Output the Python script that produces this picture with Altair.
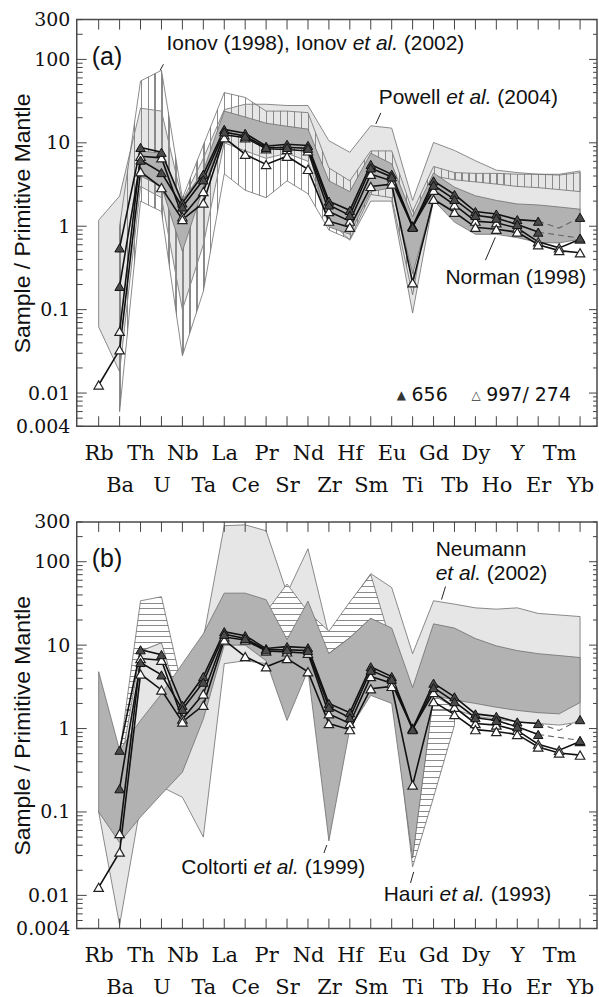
import altair as alt
import pandas as pd

# ---------------------------------------------------------------- data
ELEMENTS = ["Rb", "Ba", "Th", "U", "Nb", "Ta", "La", "Ce", "Pr", "Sr", "Nd", "Zr",
            "Hf", "Sm", "Eu", "Ti", "Gd", "Tb", "Dy", "Ho", "Y", "Er", "Tm", "Yb"]

# samples (sample / primitive mantle); None = not plotted
S656_1 = [None, 0.55, 8.8, 7.7, 1.9, 4.2, 14.5, 13.0, 9.1, 9.6, 9.3, 2.0, 1.55, 5.5, 4.2, 1.0, 3.5, 2.4, 1.5, 1.4, 1.2, 1.15, None, 1.28]
S656_2 = [None, 0.19, 6.2, 4.4, 1.7, 3.6, 13.5, 12.0, 8.8, 8.8, 8.6, 1.8, 1.35, 5.0, 3.9, 0.97, 3.1, 2.1, 1.35, 1.25, 1.05, 0.85, None, 0.72]
S997 = [None, 0.055, 6.9, 6.6, 1.3, 2.6, 12.5, 11.5, 8.5, 8.3, 8.0, 1.5, 1.15, 4.2, 3.5, 1.0, 2.7, 1.8, 1.15, 1.1, 0.95, 0.65, 0.55, 0.7]
S274 = [0.0125, 0.033, 4.5, 2.9, 1.2, 1.9, 11.5, 7.3, 5.5, 6.9, 4.8, 1.15, 0.97, 3.0, 3.2, 0.21, 2.1, 1.47, 0.97, 0.92, 0.85, 0.6, 0.51, 0.48]
DASH1_EL = ["Er", "Tm", "Yb"]
DASH1_V = [1.15, 0.95, 1.28]
DASH2_EL = ["Er", "Yb"]
DASH2_V = [0.85, 0.72]

# panel (a) literature fields
POWELL_HI = [1.18, 2.3, 26, 24, 2.0, 6.5, 25, 29, 29, 28, 28, 10.6, 7.7, 16, 15, 2.04, 10.1, 8.1, 6.1, 4.7, 4.4, 4.2, 4.1, 4.4]
POWELL_LO = [0.062, 0.018, 3.0, 2.2, 0.1, 0.6, 10, 8, 6.5, 7.5, 6, 1.18, 0.68, 2.0, 2.0, 0.091, 2.1, 1.3, 0.9, 0.85, 0.8, 0.75, 0.7, 0.75]
IONOV_HI = [None, 1.0, 55, 74, 2.16, 9.4, 40, 35, 24, 24, 23, 5, 3.5, 8, 8, 1.5, 5.2, 4.4, 4.3, 4.3, 4.2, 4.2, 4.2, 4.6]
IONOV_LO = [None, 0.006, 2.0, 1.5, 0.028, 0.165, 4.25, 2.7, 2.2, 3.5, 2.45, 0.9, 0.7, 2.4, 2.2, 0.15, 4.0, 3.6, 3.4, 3.2, 3.0, 2.9, 2.75, 2.6]
NORMAN_HI = [None, None, 8, 7.5, 2.0, 4.6, 24, 20.4, 17.2, 15.8, 14.6, 3.5, 2.6, 7.5, 5.6, 1.3, 4.35, 2.94, 2.32, 2.04, 1.85, 1.8, 1.7, 1.6]
NORMAN_LO = [None, None, 4, 3.0, 0.5, 2.9, 13, 12.5, 9.5, 9, 8.5, 0.98, 0.8, 2.6, 2.9, 0.27, 2.04, 1.12, 0.8, 0.8, 0.73, 0.64, 0.63, 0.7]

# panel (b) literature fields
NEUMANN_HI = [0.1, 0.5, 8.5, 10.7, 3.0, 12, 270, 277, 235, 42, 143, 13, 32, 72, 49, 7.9, 34, 31, 28, 27, 28, 24, 23, 22]
NEUMANN_LO = [0.1, 0.0044, 0.12, 0.2, 0.15, 0.05, 6, 6.5, 6, 6, 5, 1.5, 1.5, 3, 2.5, 0.2, 2.2, 1.7, 1.4, 1.3, 1.2, 1.15, 1.1, 1.2]
HAURI_HI = [None, 0.5, 34, 38, 3, 5, 20, 20, 25, 54, 25, 14.7, 33, 70, 10, 0.03, 2.5, 1.8, None, None, None, None, None, None]
HAURI_LO = [None, 0.3, 8.5, 10.7, 1.5, 3, 14, 14, 14, 11.7, 14, 8, 12.3, 21, 3, 0.022, 0.15, 1.1, None, None, None, None, None, None]
COLTORTI_HI = [4.8, 0.55, 1.25, 2.6, 6, 13.7, 42, 42, 35, 11.7, 33.7, 7.9, 12.3, 21, 16, 3.1, 18, 16, 12, 9.8, 8.6, 7.9, 7.5, 7.1]
COLTORTI_LO = [0.1, 0.043, 0.087, 0.163, 0.3, 1.3, 10, 10, 6.5, 1.25, 5, 0.045, 1.0, 2.5, 2.0, 0.028, 2.5, 2.2, 2.0, 1.8, 1.65, 1.55, 1.5, 2.05]

# annotations: (x in element index, y in normalised value, [(text, italic)])
NOTES_A = [
    (3.24, 155, [("Ionov (1998), Ionov ", False), ("et al.", True), (" (2002)", False)]),
    (13.38, 34.3, [("Powell ", False), ("et al.", True), (" (2004)", False)]),
    (16.57, 0.239, [("Norman (1998)", False)]),
]
LEADERS_A = [(3.095, 87.3, 2.938, 74), (13.48, 22.8, 13.24, 16.8), (18.95, 0.736, 18.48, 0.392)]
NOTES_B = [
    (16.1, 139, [("Neumann", False)]),
    (16.1, 72, [("et al.", True), (" (2002)", False)]),
    (3.95, 0.0213, [("Coltorti ", False), ("et al.", True), (" (1999)", False)]),
    (13.62, 0.0102, [("Hauri ", False), ("et al.", True), (" (1993)", False)]),
]
LEADERS_B = [(16.57, 50.4, 16.38, 35.2), (10.9, 0.0401, 10.76, 0.0322), (15.05, 0.0191, 14.9, 0.0141)]
LEGEND_SYMBOLS = [(14.24, 0.0096, "▲"), (17.81, 0.0096, "△")]
LEGEND_TEXT = [(14.95, 0.0096, "656"), (18.52, 0.0096, "997/ 274")]
PANEL_LABELS = ["(a)", "(b)"]
PANEL_LABEL_POS = (-0.33, 108)

Y_LABELS = [0.004, 0.01, 0.1, 1, 10, 100, 300]

# ---------------------------------------------------------------- layout
W, H = 522, 408
PX = 21.0
XMIN = -22 / PX
XMAX = XMIN + W / PX
N = len(ELEMENTS)
LIGHT = "#e6e6e6"
DARK = "#b2b2b2"
EDGE = "#6e6e6e"
INK = "#111111"
SANS = "Liberation Sans"
SERIF = "DejaVu Serif"
NOTE_SIZE = 21

XS = alt.Scale(domain=[XMIN, XMAX], nice=False, zero=False)
YS = alt.Scale(type="log", domain=[0.004, 300], nice=False)

names = "[" + ",".join("'%s'" % e for e in ELEMENTS) + "]"
XAX = alt.Axis(values=list(range(N)),
               labelExpr="datum.value %% 2 == 0 ? [%s[datum.value]] : ['', %s[datum.value]]" % (names, names),
               ticks=False, domain=False, grid=False, labelFont=SERIF, labelFontSize=21,
               labelColor=INK, labelPadding=16, labelBaseline="top", labelLineHeight=32,
               labelOverlap=False, labelBound=False, labelFlush=False, title="")
YAX = alt.Axis(values=Y_LABELS, format="~g", ticks=False, domain=False, grid=False,
               labelFont=SERIF, labelFontSize=19, labelColor=INK, labelPadding=7,
               labelOverlap=False, labelFlush=False,
               title="Sample / Primitive Mantle", titleFont=SANS, titleFontSize=23,
               titleFontWeight="normal", titleColor=INK, titleAngle=270, titleX=-54,
               titleY=H / 2, titleAlign="center", titleBaseline="middle")


def X(f):
    return alt.X(f, type="quantitative", scale=XS, axis=XAX)


def Y(f):
    return alt.Y(f, type="quantitative", scale=YS, axis=YAX)


def field_df(hi, lo):
    rows = [{"i": i, "hi": h, "lo": l} for i, (h, l) in enumerate(zip(hi, lo))
            if h is not None and l is not None]
    return pd.DataFrame(rows)


def hatch(n, vertical, color="#8a8a8a", bg="rgba(255,255,255,0)", frac=0.17):
    stops = []
    for k in range(n):
        a, b, c = k / n, (k + frac) / n, (k + 1) / n
        stops += [alt.GradientStop(offset=a, color=color), alt.GradientStop(offset=b, color=color),
                  alt.GradientStop(offset=b, color=bg), alt.GradientStop(offset=c, color=bg)]
    return alt.LinearGradient(gradient="linear", stops=stops, x1=0, y1=0,
                              x2=1 if vertical else 0, y2=0 if vertical else 1)


def field_layer(hi, lo, fill):
    return alt.Chart(field_df(hi, lo)).mark_area(
        fill=fill, stroke=EDGE, strokeWidth=0.8, interpolate="linear"
    ).encode(x=X("i"), y=Y("hi"), y2="lo")


AW = {' ': 278, '(': 333, ')': 333, ',': 278, '.': 278, '/': 278, 'I': 278, 'o': 556,
      'n': 556, 'v': 500, 'e': 556, 't': 278, 'a': 556, 'l': 222, 'P': 667, 'w': 722,
      'N': 722, 'r': 333, 'm': 833, 'C': 722, 'i': 222, 'H': 722, 'u': 556}


def tw(s, size):
    return sum(AW.get(c, 556) for c in s) * size / 1000.0


def note_layers(notes, size=NOTE_SIZE):
    plain, ital = [], []
    for x, y, parts in notes:
        off = 0.0
        for txt, it in parts:
            lead = len(txt) - len(txt.lstrip(" "))
            off += tw(" " * lead, size)
            body = txt.strip(" ")
            (ital if it else plain).append({"x": x + off / PX, "y": y, "t": body})
            off += tw(txt.lstrip(" "), size)
    out = []
    for rows, style in ((plain, "normal"), (ital, "italic")):
        if rows:
            out.append(alt.Chart(pd.DataFrame(rows)).mark_text(
                align="left", baseline="middle", font=SANS, fontSize=size,
                fontStyle=style, color=INK).encode(x=X("x"), y=Y("y"), text="t:N"))
    return out


def leader_layer(leaders):
    df = pd.DataFrame([{"x": a, "y": b, "x2": c, "y2": d} for a, b, c, d in leaders])
    return alt.Chart(df).mark_rule(color="#222", strokeWidth=1).encode(
        x=X("x"), y=Y("y"), x2="x2", y2="y2")


def sample_layers():
    series = [("656", S656_1), ("656", S656_2), ("997", S997), ("274", S274)]
    line_rows, pt_rows = [], []
    for k, (grp, vals) in enumerate(series):
        seg = 0
        for i, v in enumerate(vals):
            if v is None:
                seg += 1
                continue
            line_rows.append({"i": i, "v": v, "s": "%d_%d" % (k, seg)})
            pt_rows.append({"i": i, "v": v, "open": grp != "656"})
    ldf = pd.DataFrame(line_rows)
    counts = ldf.groupby("s")["i"].transform("count")
    ldf = ldf[counts > 1]
    pdf = pd.DataFrame(pt_rows)
    drows = []
    for k, (els, vs) in enumerate(((DASH1_EL, DASH1_V), (DASH2_EL, DASH2_V))):
        for e, v in zip(els, vs):
            drows.append({"i": ELEMENTS.index(e), "v": v, "s": "d%d" % k})
    ddf = pd.DataFrame(drows)
    dashed = alt.Chart(ddf).mark_line(color="#666", strokeWidth=1.1, strokeDash=[6, 4]).encode(
        x=X("i"), y=Y("v"), detail="s:N")
    lines = alt.Chart(ldf).mark_line(color=INK, strokeWidth=1.6).encode(
        x=X("i"), y=Y("v"), detail="s:N")
    opens = alt.Chart(pdf[pdf["open"]]).mark_point(
        shape="triangle-up", filled=True, fill="white", stroke="#222", strokeWidth=1.2,
        size=90, opacity=1).encode(x=X("i"), y=Y("v"))
    fills = alt.Chart(pdf[~pdf["open"]]).mark_point(
        shape="triangle-up", filled=True, fill="#4a4a4a", stroke="#111", strokeWidth=1,
        size=90, opacity=1).encode(x=X("i"), y=Y("v"))
    return [dashed, lines, opens, fills]


def tick_layers():
    major = pd.DataFrame({"v": [0.01, 0.1, 1, 10, 100]})
    minor_vals = []
    for e in range(-3, 3):
        for m in range(2, 10):
            val = m * 10.0 ** e
            if 0.0039 < val < 301:
                minor_vals.append(val)
    minor = pd.DataFrame({"v": minor_vals})
    xt = pd.DataFrame({"i": list(range(N))})
    c = "#444"
    out = []
    for df, ln in ((major, 10), (minor, 6)):
        out.append(alt.Chart(df).mark_rule(color=c, strokeWidth=1).encode(
            y=Y("v"), x=alt.value(0), x2=alt.value(ln)))
        out.append(alt.Chart(df).mark_rule(color=c, strokeWidth=1).encode(
            y=Y("v"), x=alt.value(W), x2=alt.value(W - ln + 2)))
    out.append(alt.Chart(xt).mark_rule(color=c, strokeWidth=1).encode(
        x=X("i"), y=alt.value(H), y2=alt.value(H - 10)))
    out.append(alt.Chart(xt).mark_rule(color=c, strokeWidth=1).encode(
        x=X("i"), y=alt.value(0), y2=alt.value(10)))
    return out


def panel_label(txt):
    df = pd.DataFrame([{"x": PANEL_LABEL_POS[0], "y": PANEL_LABEL_POS[1], "t": txt}])
    return alt.Chart(df).mark_text(align="left", baseline="middle", font=SANS,
                                   fontSize=25, color=INK).encode(x=X("x"), y=Y("y"), text="t:N")


def legend_layers():
    sdf = pd.DataFrame([{"x": x, "y": y, "t": t} for x, y, t in LEGEND_SYMBOLS])
    tdf = pd.DataFrame([{"x": x, "y": y, "t": t} for x, y, t in LEGEND_TEXT])
    return [
        alt.Chart(sdf).mark_text(align="left", baseline="middle", font="DejaVu Sans",
                                 fontSize=12, color="#333").encode(x=X("x"), y=Y("y"), text="t:N"),
        alt.Chart(tdf).mark_text(align="left", baseline="middle", font="DejaVu Sans",
                                 fontSize=19, color=INK).encode(x=X("x"), y=Y("y"), text="t:N"),
    ]


panel_a = alt.layer(
    field_layer(POWELL_HI, POWELL_LO, LIGHT),
    field_layer(IONOV_HI, IONOV_LO, hatch(66, True)),
    field_layer(NORMAN_HI, NORMAN_LO, DARK),
    *sample_layers(),
    *tick_layers(),
    panel_label(PANEL_LABELS[0]),
    *note_layers(NOTES_A),
    leader_layer(LEADERS_A),
    *legend_layers(),
).properties(width=W, height=H)

panel_b = alt.layer(
    field_layer(NEUMANN_HI, NEUMANN_LO, LIGHT),
    field_layer(HAURI_HI, HAURI_LO, hatch(52, False, bg="#ffffff", frac=0.18)),
    field_layer(COLTORTI_HI, COLTORTI_LO, DARK),
    *sample_layers(),
    *tick_layers(),
    panel_label(PANEL_LABELS[1]),
    *note_layers(NOTES_B),
    leader_layer(LEADERS_B),
).properties(width=W, height=H)

chart = alt.vconcat(panel_a, panel_b, spacing=16).properties(
    padding={"left": 11, "top": 8, "right": 0, "bottom": 0}, background="white"
).configure_view(stroke="#4a4a4a", strokeWidth=1.5)

chart.save("out.html", embed_options={"renderer": "svg", "actions": False})
